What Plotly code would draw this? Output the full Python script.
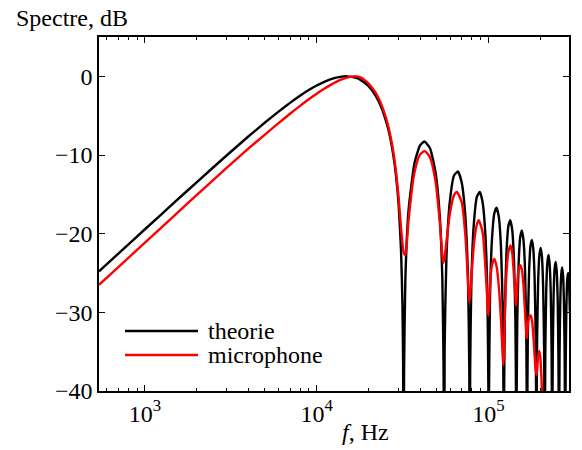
import math
import plotly.graph_objects as go

# ---- data ----
freq_theory = [
    540, 700, 1000, 1500, 2000, 3000, 4000, 5000, 6000, 7000, 8000, 9000, 10000,
    11000, 12000, 13000, 14000, 15000, 16000, 17000, 18000, 20000, 22000, 24000,
    26000, 27000, 28000, 29000, 30000, 31000, 31600, 31900, 32110,
    32300, 32870, 34300, 37150, 40010, 42370, 45730, 49300, 52160, 53940, 54870, 55200,
    55650, 57020, 59740, 63150, 66560, 69960, 73370, 76090, 77460, 77910,
    78360, 79720, 82430, 85820, 89210, 92590, 95980, 98690, 100050, 100500,
    100950, 102300, 105010, 108390, 111770, 115150, 118530, 121240, 122590, 123040,
    123490, 124840, 127540, 130920, 134300, 137670, 141050, 143750, 145100, 145550,
    146000, 147350, 150050, 153430, 156800, 160180, 163550, 166250, 167600, 168050,
    168500, 169850, 172550, 175920, 179290, 182660, 186030, 188730, 190080, 190530,
    190980, 192330, 195020, 198390, 201770, 205140, 208510, 211200, 212550, 213000,
    213450, 214800, 217490, 220860, 224240, 227610, 230980, 233670, 235020, 235470,
    235920, 237270, 239960, 243330, 246710, 250080, 253450, 256140, 257490, 257940,
    258390, 259740, 262430, 265800, 269170, 272540, 275910, 278610, 279950, 280400,
    280850, 282200, 284890, 288260, 291640, 295010, 298380,
]
db_theory = [
    -24.78, -22.53, -19.44, -15.94, -13.47, -10.03, -7.65, -5.87, -4.48, -3.37, -2.47, -1.75, -1.17,
    -0.73, -0.40, -0.17, -0.04, 0.00, -0.06, -0.21, -0.45, -1.22, -2.41, -4.12,
    -6.54, -8.14, -10.12, -12.66, -16.18, -21.96, -28.93, -36.92, -80,
    -37.6, -25.72, -17.03, -11.02, -8.79, -8.29, -9.14, -12.29, -17.82, -25.61, -37.47, -80,
    -34.6, -22.9, -15.8, -12.6, -12.1, -13.5, -17.6, -25.4, -37.4, -80,
    -37.6, -25.8, -18.6, -15.3, -14.7, -16.0, -19.9, -27.6, -39.7, -80,
    -39.8, -28.0, -20.7, -17.4, -16.7, -17.9, -21.8, -29.5, -41.5, -80,
    -41.6, -29.8, -22.4, -19.0, -18.3, -19.5, -23.3, -31.0, -43.0, -80,
    -43.1, -31.2, -23.9, -20.4, -19.6, -20.8, -24.6, -32.2, -44.2, -80,
    -44.3, -32.4, -25.1, -21.6, -20.8, -21.9, -25.7, -33.3, -45.3, -80,
    -45.4, -33.5, -26.1, -22.7, -21.8, -22.9, -26.7, -34.3, -46.3, -80,
    -46.4, -34.5, -27.1, -23.6, -22.7, -23.9, -27.6, -35.2, -47.2, -80,
    -47.2, -35.3, -27.9, -24.4, -23.6, -24.7, -28.4, -36.0, -48.0, -80,
    -48.0, -36.1, -28.6, -25.2, -24.3, -25.4, -29.2, -36.7, -48.7, -80,
    -48.6, -36.8, -29.3, -25.8, -25.0, -26.1, -29.9,
]

freq_mic = [
    540, 700, 1000, 1500, 2000, 3000, 4000, 5000, 6000, 7000, 8000, 9000, 10000,
    11000, 12000, 13000, 14000, 15000, 16000, 17000, 18000, 19000, 20000, 22000,
    24000, 26000, 27000, 28000, 29000, 30000, 31000, 31800, 32400, 32800, 33300,
    34300, 37150, 40010, 42600, 45730, 49300, 52160, 53900, 54700,
    55650, 57020, 59740, 63150, 65500, 69960, 73370, 76090, 77400,
    78360, 79720, 82430, 85820, 88000, 92590, 95980, 98690, 100000,
    101000, 102300, 105000, 108400, 111800, 115200, 118500, 121200, 122300,
    123500, 124800, 127500, 130900, 134500, 137700, 141000, 143750, 145000,
    146000, 147400, 150000, 153400, 156800, 160200, 163500, 166200, 167500,
    168500, 170000, 173000, 176500, 180000, 184000, 188000, 190800,
    192500, 195000, 198000, 201000, 204000, 207000, 210000,
]
db_mic = [
    -26.5, -24.25, -21.15, -17.6, -15.1, -11.6, -9.2, -7.4, -5.95, -4.75, -3.75, -2.92, -2.22,
    -1.62, -1.12, -0.70, -0.38, -0.16, -0.04, 0.0, -0.12, -0.45, -0.9, -2.05,
    -3.75, -6.15, -7.75, -9.65, -12.15, -15.35, -19.2, -21.8, -22.6, -22.7, -21.9,
    -18.3, -12.2, -9.95, -9.5, -10.3, -13.4, -18.6, -22.6, -23.7,
    -23.0, -21.0, -17.4, -15.1, -14.7, -16.0, -20.0, -26.0, -28.7,
    -27.8, -25.5, -21.3, -18.8, -18.3, -19.8, -24.0, -28.5, -30.4,
    -29.3, -26.5, -24.0, -23.2, -24.2, -26.8, -31.0, -35.5, -36.7,
    -35.0, -30.5, -25.0, -22.3, -21.5, -22.4, -25.3, -28.0, -29.1,
    -28.5, -26.5, -24.6, -24.0, -24.6, -26.5, -29.8, -32.6, -33.3,
    -32.8, -31.5, -30.6, -30.4, -31.2, -33.8, -37.0, -38.0,
    -37.2, -35.6, -34.9, -35.8, -38.5, -42.0, -50.0,
]

x_tick_vals = [1e3, 1e4, 1e5]
x_tick_text = ["10<sup>3</sup>", "10<sup>4</sup>", "10<sup>5</sup>"]
x_minor_vals = [600, 700, 800, 900,
                2000, 3000, 4000, 5000, 6000, 7000, 8000, 9000,
                20000, 30000, 40000, 50000, 60000, 70000, 80000, 90000,
                200000]
y_tick_vals = [-40, -30, -20, -10, 0]
y_tick_text = ["\u221240", "\u221230", "\u221220", "\u221210", "0"]
series_names = ["theorie", "microphone"]

FONT = "Liberation Serif, Times New Roman, serif"

fig = go.Figure()
fig.add_trace(go.Scatter(x=freq_theory, y=db_theory, mode="lines",
                         name=series_names[0],
                         line=dict(color="black", width=2.4, shape="spline", smoothing=0.5)))
fig.add_trace(go.Scatter(x=freq_mic, y=db_mic, mode="lines",
                         name=series_names[1],
                         line=dict(color="red", width=2.4, shape="spline", smoothing=0.6)))

fig.update_layout(
    width=582, height=450,
    margin=dict(l=99, r=13, t=37, b=59),
    plot_bgcolor="white", paper_bgcolor="white",
    font=dict(family=FONT, size=24, color="black"),
    showlegend=False,
)
fig.update_xaxes(
    type="log", range=[math.log10(540), math.log10(295000)],
    showline=True, linecolor="black", linewidth=1.5, mirror="allticks",
    ticks="inside", ticklen=6, tickwidth=1, tickcolor="black",
    tickvals=x_tick_vals, ticktext=x_tick_text,
    minor=dict(ticks="inside", ticklen=3, tickwidth=1, tickcolor="black",
               tickvals=x_minor_vals, showgrid=False),
    showgrid=False, zeroline=False,
    tickfont=dict(family=FONT, size=24),
)
fig.update_yaxes(
    range=[-40, 5],
    showline=True, linecolor="black", linewidth=1.5, mirror="allticks",
    ticks="inside", ticklen=6, tickwidth=1, tickcolor="black",
    tickvals=y_tick_vals, ticktext=y_tick_text,
    showgrid=False, zeroline=False,
    tickfont=dict(family=FONT, size=24),
)

# axis titles
fig.add_annotation(text="Spectre, dB", xref="paper", yref="paper",
                   x=-0.181, y=1.053, xanchor="left", yanchor="middle",
                   showarrow=False, font=dict(family=FONT, size=24))
fig.add_annotation(text="<i>f</i>, Hz", xref="paper", yref="paper",
                   x=0.568, y=-0.116, xanchor="center", yanchor="middle",
                   showarrow=False, font=dict(family=FONT, size=24))

# legend (drawn inside the axes, no box)
leg_y = [0.1693, 0.1016]
leg_col = ["black", "red"]
for name, yy, col in zip(series_names, leg_y, leg_col):
    fig.add_shape(type="line", xref="paper", yref="paper",
                  x0=0.0553, x1=0.2106, y0=yy, y1=yy,
                  line=dict(color=col, width=2.4))
    fig.add_annotation(text=name, xref="paper", yref="paper",
                       x=0.2277, y=yy, xanchor="left", yanchor="middle",
                       showarrow=False, font=dict(family=FONT, size=24))

# remove the browser's default 8 px body margin so the figure sits at (0, 0)
fig.write_html("out.html",
               config={"displayModeBar": False},
               post_script="document.body.style.margin='0px';document.body.style.padding='0px';")
